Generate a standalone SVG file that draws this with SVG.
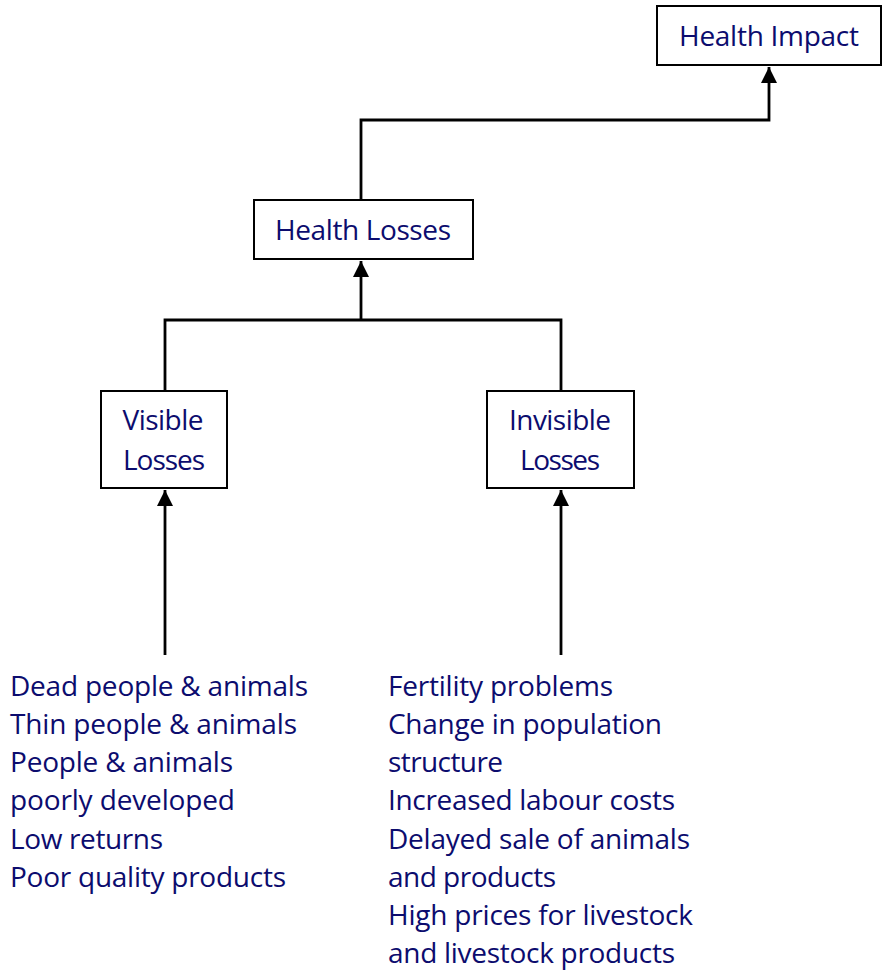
<svg xmlns="http://www.w3.org/2000/svg" width="884" height="974" viewBox="0 0 884 974">
<style>
.box{fill:#fff;stroke:#000;stroke-width:2}
.t{font-family:"Open Sans","Noto Sans",sans-serif;font-size:28px;fill:#0c0c6e}
.c{text-anchor:middle}
.ln{fill:none;stroke:#000;stroke-width:2.8}
</style>
<defs>
<marker id="ah" markerUnits="userSpaceOnUse" markerWidth="17" markerHeight="17" refX="16" refY="8" orient="auto">
<path d="M0,0 L16,8 L0,16 z" fill="#000"/>
</marker>
</defs>
<rect width="884" height="974" fill="#fff"/>
<g id="connectors">
<path class="ln" d="M361,200 V120 H769 V67" marker-end="url(#ah)"/>
<path class="ln" d="M165,391 V320 H561 V391"/>
<path class="ln" d="M361,320 V261" marker-end="url(#ah)"/>
<path class="ln" d="M165,655 V490" marker-end="url(#ah)"/>
<path class="ln" d="M561,655 V490" marker-end="url(#ah)"/>
</g>
<g id="health-impact">
<rect class="box" x="657" y="6" width="224" height="59"/>
<text class="t c" x="769" y="46" textLength="180">Health Impact</text>
</g>
<g id="health-losses">
<rect class="box" x="254" y="200" width="219" height="59"/>
<text class="t c" x="363" y="240" textLength="176">Health Losses</text>
</g>
<g id="visible-losses">
<rect class="box" x="101" y="391" width="126" height="97"/>
<text class="t c" x="163" y="430" textLength="81">Visible</text>
<text class="t c" x="164" y="470" textLength="82">Losses</text>
</g>
<g id="invisible-losses">
<rect class="box" x="487" y="391" width="147" height="97"/>
<text class="t c" x="560" y="430" textLength="102">Invisible</text>
<text class="t c" x="560" y="470" textLength="80">Losses</text>
</g>
<g id="visible-list">
<text class="t" x="10" y="696" textLength="298">Dead people &amp; animals</text>
<text class="t" x="10" y="734" textLength="287">Thin people &amp; animals</text>
<text class="t" x="10" y="772" textLength="223">People &amp; animals</text>
<text class="t" x="10" y="810" textLength="225">poorly developed</text>
<text class="t" x="10" y="849" textLength="153">Low returns</text>
<text class="t" x="10" y="887" textLength="276">Poor quality products</text>
</g>
<g id="invisible-list">
<text class="t" x="388" y="696" textLength="225">Fertility problems</text>
<text class="t" x="388" y="734" textLength="274">Change in population</text>
<text class="t" x="388" y="772" textLength="115">structure</text>
<text class="t" x="388" y="810" textLength="287">Increased labour costs</text>
<text class="t" x="388" y="849" textLength="302">Delayed sale of animals</text>
<text class="t" x="388" y="887" textLength="168">and products</text>
<text class="t" x="388" y="925" textLength="305">High prices for livestock</text>
<text class="t" x="388" y="963" textLength="287">and livestock products</text>
</g>
</svg>
